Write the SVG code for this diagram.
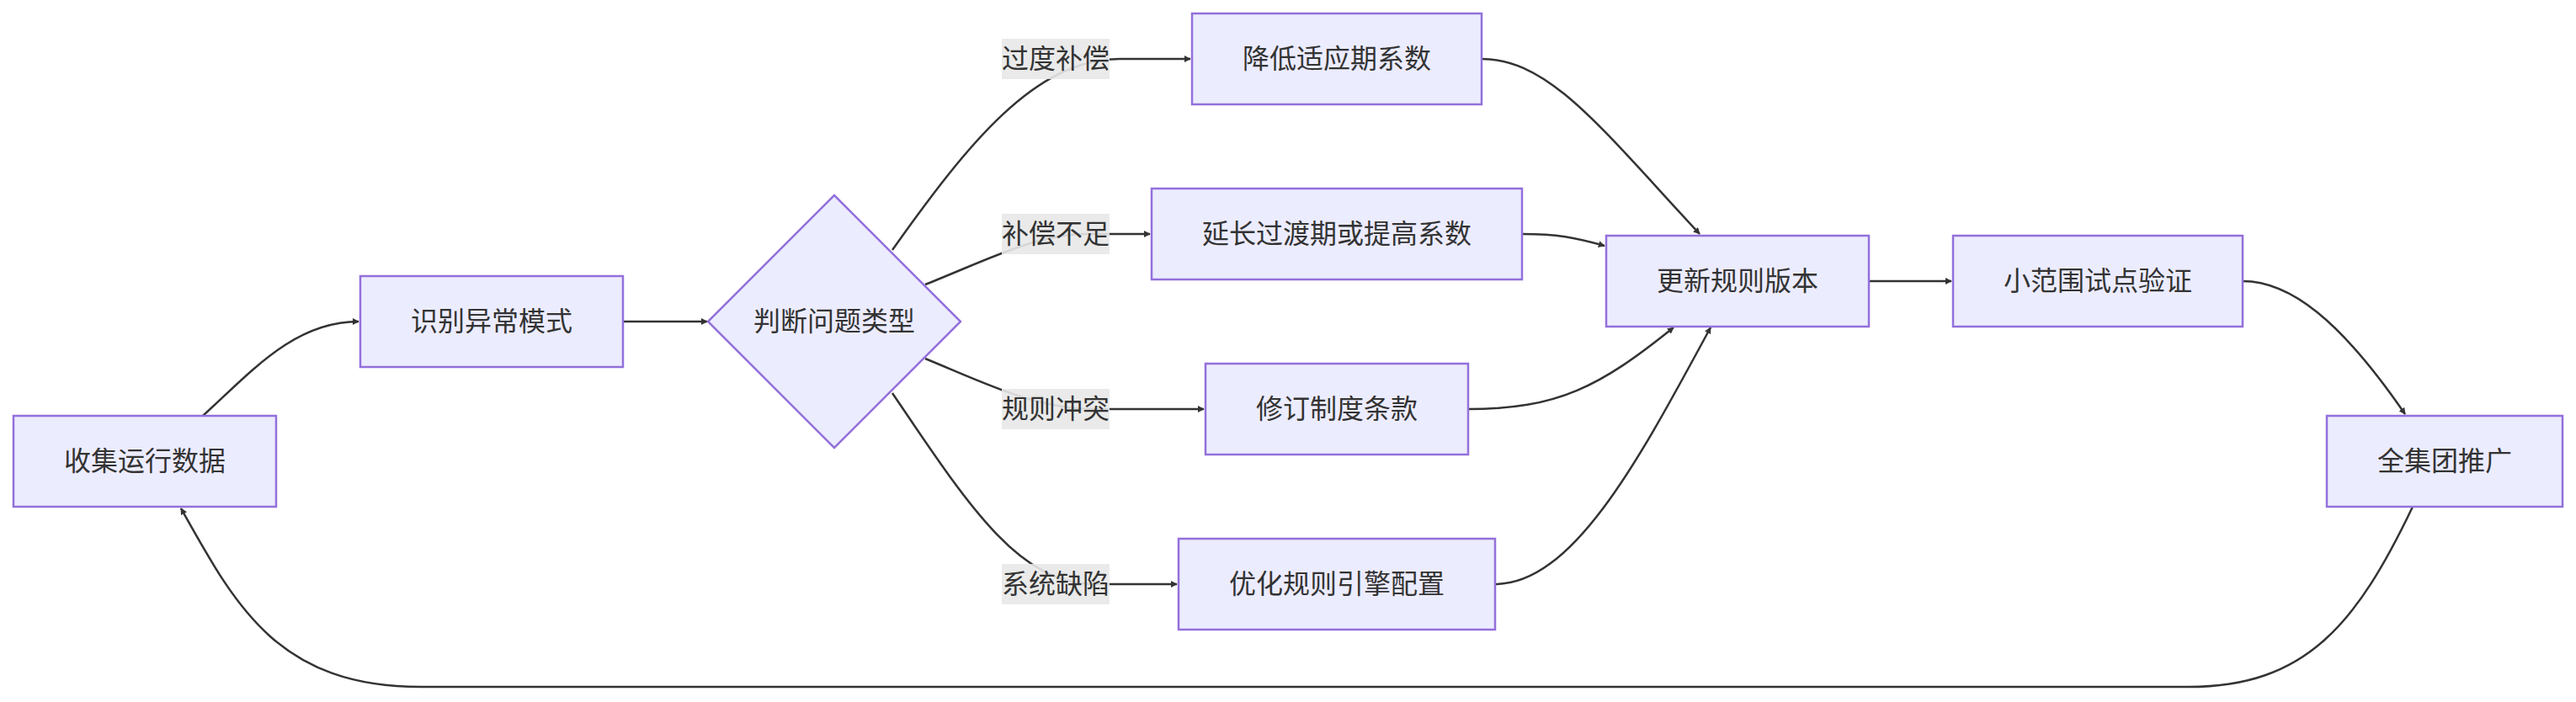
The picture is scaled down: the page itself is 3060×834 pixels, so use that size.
<svg xmlns="http://www.w3.org/2000/svg" width="3060" height="834" viewBox="0 0 3060 834">
<style>
.n{fill:#ECECFF;stroke:#9370DB;stroke-width:2.5}
.t{font-family:"Liberation Sans","Noto Sans CJK SC",sans-serif;font-size:32px;fill:#333;text-anchor:middle;dominant-baseline:central}
.e{fill:none;stroke:#333;stroke-width:2.5}
.lb{fill:#e8e8e8;opacity:0.9}
</style>
<defs>
<marker id="a" viewBox="0 0 10 10" refX="9" refY="5" markerWidth="8" markerHeight="8" markerUnits="userSpaceOnUse" orient="auto">
<path d="M0,0 L10,5 L0,10 z" fill="#333"/>
</marker>
</defs>
<rect width="3060" height="834" fill="#fff"/>
<g id="connectors">
<path class="e" marker-end="url(#a)" d="M241,494 C300,440 350,382 426,382" style="marker-end:url(#a)"/>
<path class="e" d="M740,382 L840,382" marker-end="url(#a)"/>
<path class="e" d="M1060,297 C1150,170 1230,70 1330,70 L1414,70" marker-end="url(#a)"/>
<path class="e" d="M1099,338 C1170,310 1230,278 1290,278 L1366,278" marker-end="url(#a)"/>
<path class="e" d="M1099,426 C1170,455 1230,486 1300,486 L1430,486" marker-end="url(#a)"/>
<path class="e" d="M1060,467 C1150,600 1210,694 1300,694 L1398,694" marker-end="url(#a)"/>
<path class="e" d="M1760,70 C1840,70 1900,150 2019,278" marker-end="url(#a)"/>
<path class="e" d="M1808,278 C1850,278 1870,282 1906,292" marker-end="url(#a)"/>
<path class="e" d="M1744,486 C1850,486 1900,460 1988,389" marker-end="url(#a)"/>
<path class="e" d="M1776,694 C1870,694 1950,540 2032,389" marker-end="url(#a)"/>
<path class="e" d="M2220,334 L2318,334" marker-end="url(#a)"/>
<path class="e" d="M2664,334 C2720,334 2780,380 2857,492" marker-end="url(#a)"/>
<path class="e" d="M2866,602 C2800,740 2740,816 2600,816 L500,816 C330,816 280,720 215,604" marker-end="url(#a)"/>
</g>
<g id="labels">
<rect class="lb" x="1190" y="46" width="128" height="48"/><text class="t" x="1254" y="70">过度补偿</text>
<rect class="lb" x="1190" y="254" width="128" height="48"/><text class="t" x="1254" y="278">补偿不足</text>
<rect class="lb" x="1190" y="462" width="128" height="48"/><text class="t" x="1254" y="486">规则冲突</text>
<rect class="lb" x="1190" y="670" width="128" height="48"/><text class="t" x="1254" y="694">系统缺陷</text>
</g>
<g id="collect"><rect class="n" x="16" y="494" width="312" height="108"/><text class="t" x="172" y="548">收集运行数据</text></g>
<g id="identify"><rect class="n" x="428" y="328" width="312" height="108"/><text class="t" x="584" y="382">识别异常模式</text></g>
<g id="judge"><polygon class="n" points="991,232 1141,382 991,532 841,382"/><text class="t" x="991" y="382">判断问题类型</text></g>
<g id="lower"><rect class="n" x="1416" y="16" width="344" height="108"/><text class="t" x="1588" y="70">降低适应期系数</text></g>
<g id="extend"><rect class="n" x="1368" y="224" width="440" height="108"/><text class="t" x="1588" y="278">延长过渡期或提高系数</text></g>
<g id="revise"><rect class="n" x="1432" y="432" width="312" height="108"/><text class="t" x="1588" y="486">修订制度条款</text></g>
<g id="optimize"><rect class="n" x="1400" y="640" width="376" height="108"/><text class="t" x="1588" y="694">优化规则引擎配置</text></g>
<g id="update"><rect class="n" x="1908" y="280" width="312" height="108"/><text class="t" x="2064" y="334">更新规则版本</text></g>
<g id="pilot"><rect class="n" x="2320" y="280" width="344" height="108"/><text class="t" x="2492" y="334">小范围试点验证</text></g>
<g id="rollout"><rect class="n" x="2764" y="494" width="280" height="108"/><text class="t" x="2904" y="548">全集团推广</text></g>
</svg>
